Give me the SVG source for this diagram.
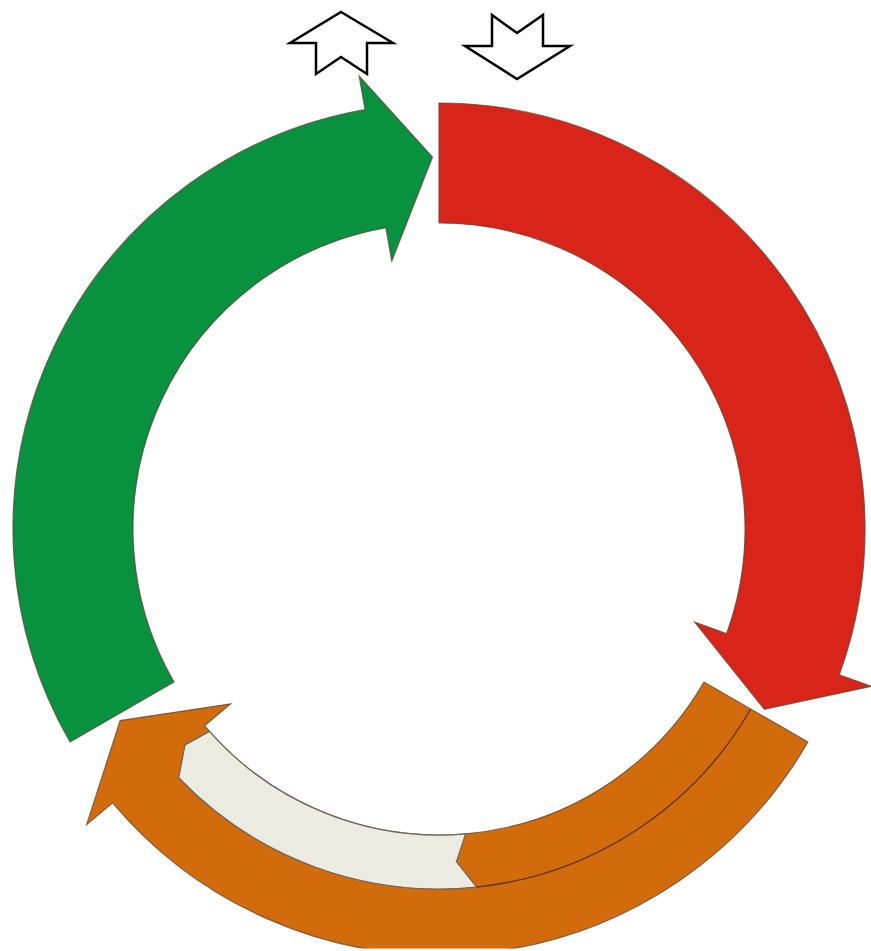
<svg xmlns="http://www.w3.org/2000/svg" width="871" height="951" viewBox="0 0 871 951">
  <style>
    .band { stroke: #5a4636; stroke-opacity: 0.75; stroke-width: 1.2; stroke-linejoin: miter; }
    .red { fill: #d92419; }
    .green { fill: #08913f; }
    .orange { fill: #d16b0b; }
    .cream { fill: #ecebe1; stroke: #6e6358; stroke-width: 1.2; }
    .divider { fill: none; stroke: #5a3410; stroke-width: 1.3; }
    .sym { fill: #ffffff; stroke: #000000; stroke-width: 2.5; stroke-linejoin: miter; }
  </style>
  <defs>
    <clipPath id="clipBottom">
      <rect x="0" y="0" width="871" height="948.5"/>
    </clipPath>
  </defs>
  <rect x="0" y="0" width="871" height="951" fill="#ffffff"/>

  <g id="up-arrow">
    <polygon class="sym" points="341,12 393,43 367,43 367,74 341,57 316,74 316,43 290,43"/>
  </g>
  <g id="down-arrow">
    <polygon class="sym" points="492,15 517,33 543,15 543,46 570,46 517,79 465,46 492,46"/>
  </g>

  <g id="connectors">
    <g id="red-arrow">
      <path class="band red" d="M 439,103 A 426 426 0 0 1 839.31,674.70 L 871.26,686.33 L 764.36,709.35 L 694.60,622.03 L 726.55,633.66 A 306 306 0 0 0 439,223 Z"/>
    </g>
    <g id="green-arrow">
      <path class="band green" d="M 70.07,742 A 426 426 0 0 1 365.03,109.47 L 359.12,75.99 L 432.51,157.06 L 391.77,261.13 L 385.86,227.65 A 306 306 0 0 0 174,682 Z"/>
    </g>
    <g id="orange-arrow" clip-path="url(#clipBottom)">
      <path class="band orange" d="M 807.93,742 A 426 426 0 0 1 112.67,802.83 L 86.62,824.68 L 120.13,720.59 L 230.64,703.84 L 204.59,725.69 A 306 306 0 0 0 704,682 Z"/>
      <path class="cream" d="M 465.67,833.83 A 306 306 0 0 1 209.47,731.36 L 185,745 L 178.73,777.72 A 360 360 0 0 0 476.63,887.03 L 456.43,861.54 Z"/>
      <path class="divider" d="M 476.63,887.03 A 360 360 0 0 0 750.77,709"/>
    </g>
  </g>
</svg>
